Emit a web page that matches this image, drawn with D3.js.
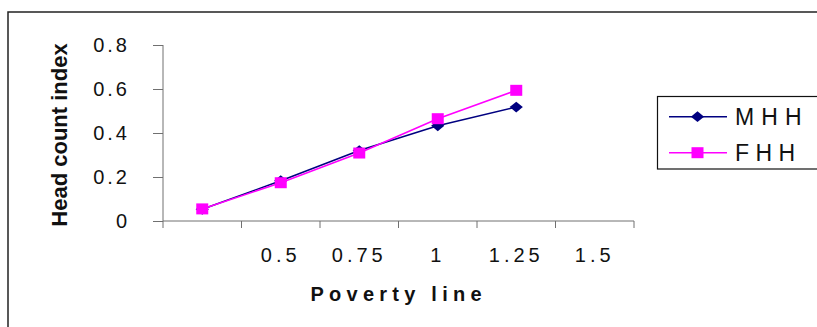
<!DOCTYPE html>
<html><head><meta charset="utf-8">
<script src="https://cdn.jsdelivr.net/npm/d3@7"></script>
<style>body{margin:0;background:#fff}svg{display:block}</style>
</head><body>
<svg id="c" width="817" height="327"></svg>
<script>
const categories = ["", "0.5", "0.75", "1", "1.25", "1.5"];
const seriesNames = ["M H H", "F H H"];
const mhh = [0.053, 0.183, 0.32, 0.433, 0.518];
const fhh = [0.055, 0.174, 0.309, 0.465, 0.594];
const yTicks = [0, 0.2, 0.4, 0.6, 0.8];
const yTickLabels = ["0", "0.2", "0.4", "0.6", "0.8"];
const yTitle = "Head count index";
const xTitle = "Poverty line";

const svg = d3.select("#c");
const font = "Arial, 'Liberation Sans', sans-serif";

// outer frame
svg.append("rect").attr("x", 8).attr("y", 12).attr("width", 830).attr("height", 340)
  .attr("fill", "none").attr("stroke", "#222").attr("stroke-width", 1.5);

const x = d3.scaleBand().domain(d3.range(categories.length)).range([163, 634]).padding(0);
const y = d3.scaleLinear().domain([0, 0.8]).range([221, 45]);

// y axis
const yAxis = d3.axisLeft(y).tickValues(yTicks).tickSize(10).tickFormat("");
const gy = svg.append("g").attr("transform", "translate(163,0)").call(yAxis);
gy.selectAll("path,line").attr("stroke", "#707070").attr("stroke-width", 1);
gy.select(".domain").attr("d", `M0,${y(0.8)}V${y(0)}`);

svg.append("g").selectAll("text").data(yTicks).join("text")
  .attr("x", 130).attr("y", d => y(d) + 7)
  .attr("text-anchor", "end")
  .attr("font-family", font).attr("font-size", 20).attr("fill", "#111")
  .attr("letter-spacing", 3)
  .text((d, i) => yTickLabels[i]);

// x axis
const xAxis = d3.axisBottom(x).tickSize(0).tickFormat("");
const gx = svg.append("g").attr("transform", "translate(0,221)").call(xAxis);
gx.select(".domain").attr("d", "M163,0H634").attr("stroke", "#707070");
gx.selectAll(".tick").remove();
const bounds = d3.range(categories.length + 1).map(i => i < categories.length ? x(i) : x(categories.length - 1) + x.bandwidth());
gx.selectAll("line.b").data(bounds).join("line").attr("class", "b")
  .attr("x1", d => d).attr("x2", d => d).attr("y1", 0).attr("y2", 7)
  .attr("stroke", "#707070");

svg.append("g").selectAll("text").data(categories).join("text")
  .attr("x", (d, i) => x(i) + x.bandwidth() / 2)
  .attr("y", 262)
  .attr("text-anchor", "middle")
  .attr("font-family", font).attr("font-size", 20).attr("fill", "#111")
  .attr("letter-spacing", 4)
  .text(d => d);

// titles
svg.append("text")
  .attr("transform", "translate(67,135) rotate(-90)")
  .attr("text-anchor", "middle")
  .attr("font-family", font).attr("font-size", 22).attr("font-weight", "bold").attr("fill", "#111")
  .text(yTitle);
svg.append("text")
  .attr("x", 396).attr("y", 301)
  .attr("text-anchor", "middle")
  .attr("font-family", font).attr("font-size", 20).attr("font-weight", "bold").attr("fill", "#111")
  .attr("textLength", 171).attr("lengthAdjust", "spacing")
  .text(xTitle);

// lines
const line = d3.line().x((d, i) => x(i) + x.bandwidth() / 2).y(d => y(d));
const colors = ["#000080", "#FF00FF"];
const diamond = (cx, cy, s) => `M${cx},${cy - s * 0.45}L${cx + s * 0.55},${cy}L${cx},${cy + s * 0.45}L${cx - s * 0.55},${cy}Z`;

svg.append("path").datum(mhh).attr("d", line).attr("fill", "none").attr("stroke", colors[0]).attr("stroke-width", 1.6);
svg.append("g").selectAll("path").data(mhh).join("path")
  .attr("d", (d, i) => diamond(x(i) + x.bandwidth() / 2, y(d), 12)).attr("fill", colors[0]);

svg.append("path").datum(fhh).attr("d", line).attr("fill", "none").attr("stroke", colors[1]).attr("stroke-width", 1.6);
svg.append("g").selectAll("rect").data(fhh).join("rect")
  .attr("x", (d, i) => x(i) + x.bandwidth() / 2 - 6).attr("y", d => y(d) - 5.5)
  .attr("width", 12).attr("height", 11).attr("fill", colors[1]);

// legend
const lg = svg.append("g");
lg.append("rect").attr("x", 657.5).attr("y", 96.5).attr("width", 200).attr("height", 72.5)
  .attr("fill", "#fff").attr("stroke", "#111").attr("stroke-width", 1.2);
const rows = [116.7, 152.7];
const ends = [801.7, 795];
seriesNames.forEach((name, k) => {
  const ry = rows[k];
  lg.append("line").attr("x1", 669).attr("x2", 727).attr("y1", ry).attr("y2", ry)
    .attr("stroke", colors[k]).attr("stroke-width", 1.6);
  if (k === 0) lg.append("path").attr("d", diamond(697.5, ry, 12)).attr("fill", colors[0]);
  else lg.append("rect").attr("x", 691.5).attr("y", ry - 5.5).attr("width", 12).attr("height", 11).attr("fill", colors[1]);
  lg.append("text").attr("x", 735).attr("y", ry + 8.5)
    .attr("font-family", font).attr("font-size", 23).attr("fill", "#111")
    .attr("textLength", ends[k] - 735).attr("lengthAdjust", "spacing")
    .text(name);
});
</script>
</body></html>
